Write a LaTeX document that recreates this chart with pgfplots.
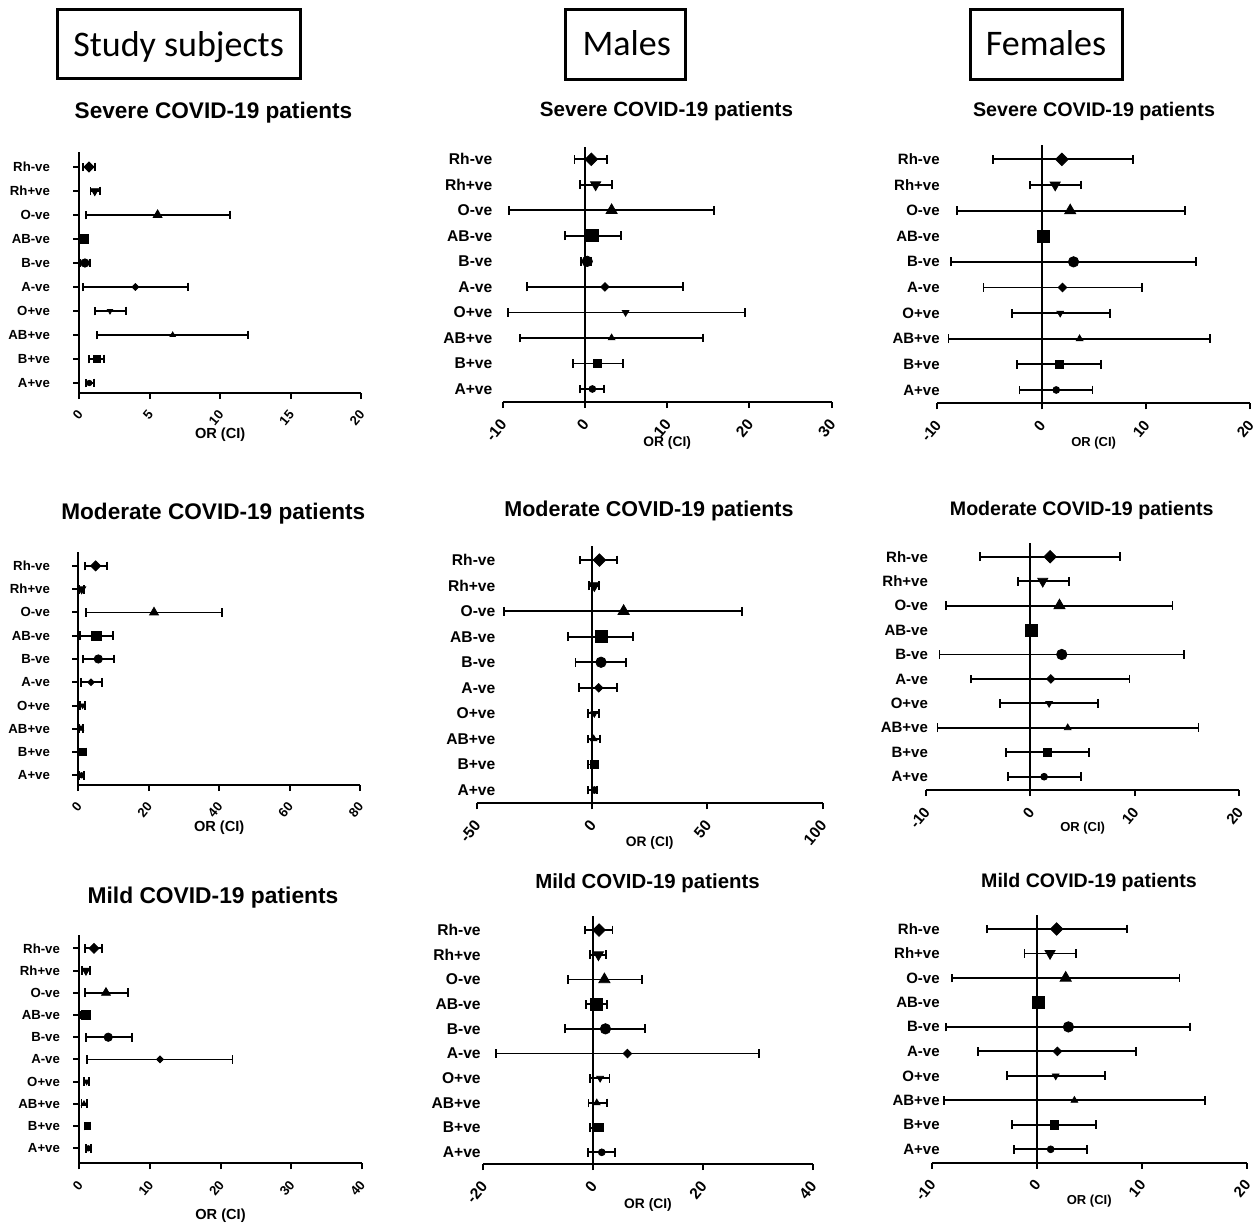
\documentclass[border=0pt]{standalone}
\usepackage{pgfplots}
\usepackage{pgfplotstable}
\pgfplotsset{compat=1.18}
\usepackage{fontspec}
\setmainfont{Liberation Sans}
\newfontfamily\hdrfont{Carlito}

% rows: Rh-ve, Rh+ve, O-ve, AB-ve, B-ve, A-ve, O+ve, AB+ve, B+ve, A+ve
\pgfplotstableread{
y x lo hi
10 0.69 0.28 1.11
9 1.10 0.80 1.47
8 5.56 0.47 10.70
7 0.33 0.05 0.57
6 0.40 0.05 0.76
5 3.98 0.28 7.69
4 2.18 1.11 3.31
3 6.63 1.28 12.00
2 1.23 0.71 1.75
1 0.71 0.47 1.07
}\tabAA
\pgfplotstableread{
y x lo hi
10 0.77 -1.26 2.72
9 1.30 -0.65 3.28
8 3.24 -9.20 15.70
7 0.90 -2.47 4.34
6 0.28 -0.45 0.77
5 2.43 -7.00 11.96
4 4.94 -9.36 19.45
3 3.24 -7.90 14.35
2 1.50 -1.50 4.62
1 0.90 -0.65 2.31
}\tabAB
\pgfplotstableread{
y x lo hi
10 1.95 -4.67 8.76
9 1.31 -1.09 3.77
8 2.75 -8.12 13.78
7 0.19 0.00 0.40
6 3.07 -8.70 14.84
5 2.01 -5.56 9.63
4 1.79 -2.85 6.59
3 3.65 -8.92 16.18
2 1.73 -2.37 5.69
1 1.41 -2.11 4.89
}\tabAC
\pgfplotstableread{
y x lo hi
10 4.92 1.90 8.24
9 0.95 0.30 1.60
8 21.50 2.18 40.90
7 5.20 0.47 9.94
6 5.68 1.23 10.13
5 3.60 0.76 6.63
4 1.23 0.47 1.90
3 0.76 0.20 1.40
2 1.23 0.47 2.10
1 0.95 0.30 1.60
}\tabBA
\pgfplotstableread{
y x lo hi
10 3.2 -5.3 10.8
9 1.0 -1.4 2.9
8 13.7 -38.0 65.0
7 3.9 -10.5 17.6
6 3.9 -7.2 14.7
5 2.9 -5.8 10.8
4 1.0 -1.7 2.9
3 0.7 -1.7 3.3
2 1.0 -1.7 2.5
1 1.0 -1.7 2.2
}\tabBB
\pgfplotstableread{
y x lo hi
10 1.88 -4.82 8.59
9 1.18 -1.21 3.70
8 2.78 -8.08 13.60
7 0.13 0.00 0.30
6 3.00 -8.71 14.70
5 1.95 -5.68 9.48
4 1.79 -2.90 6.45
3 3.57 -8.90 16.10
2 1.63 -2.36 5.62
1 1.31 -2.17 4.82
}\tabBC
\pgfplotstableread{
y x lo hi
10 2.08 0.80 3.16
9 0.94 0.40 1.50
8 3.78 0.80 6.94
7 0.94 0.10 1.60
6 4.10 0.94 7.41
5 11.43 1.04 21.70
4 1.04 0.66 1.42
3 0.66 0.30 1.04
2 1.13 0.80 1.50
1 1.27 0.90 1.70
}\tabCA
\pgfplotstableread{
y x lo hi
10 1.09 -1.52 3.52
9 0.97 -0.55 2.31
8 2.06 -4.61 8.86
7 0.67 -1.28 2.49
6 2.25 -5.10 9.47
5 6.25 -17.67 30.24
4 1.28 -0.55 2.98
3 0.67 -0.85 2.49
2 0.97 -0.55 1.76
1 1.58 -0.97 4.00
}\tabCB
\pgfplotstableread{
y x lo hi
10 1.90 -4.76 8.57
9 1.27 -1.17 3.75
8 2.76 -8.03 13.59
7 0.16 0.00 0.35
6 3.02 -8.63 14.60
5 1.97 -5.56 9.46
4 1.81 -2.86 6.51
3 3.59 -8.83 16.03
2 1.68 -2.32 5.65
1 1.33 -2.16 4.76
}\tabCC

\def\mf{1}
\pgfplotsset{
  forest/.style={
    scale only axis, anchor=south west, clip=false,
    axis x line=bottom, axis y line=left,
    axis line style={-, line width=1pt, black},
    tick style={black, line width=1pt},
    major tick length=3pt,
    xtick align=outside,
    ytick={1,...,10},
    yticklabels={A+ve,B+ve,AB+ve,O+ve,A-ve,B-ve,AB-ve,O-ve,Rh+ve,Rh-ve},
    /pgf/number format/assume math mode=true,
    xticklabel style={xshift=0.5pt, yshift=-6.5pt, rotate=50, anchor=east, inner sep=0pt},
    yticklabel style={anchor=east, inner sep=0pt},
    xlabel={OR (CI)},
    xlabel style={at={(axis description cs:0.5,0)}, anchor=center},
  },
  col1/.style={ytick align=outside,
    tick label style={font=\bfseries\fontsize{6.6}{7}\selectfont},
    xlabel style={font=\bfseries\fontsize{7.3}{8}\selectfont}},
  col2/.style={ytick align=inside, y axis line style={draw=none}, ytick style={draw=none},
    tick label style={font=\bfseries\fontsize{7.8}{8}\selectfont},
    xlabel style={font=\bfseries\fontsize{6.9}{8}\selectfont}},
  col3/.style={ytick align=inside, y axis line style={draw=none}, ytick style={draw=none},
    tick label style={font=\bfseries\fontsize{7.5}{8}\selectfont},
    xlabel style={font=\bfseries\fontsize{6.5}{8}\selectfont}},
  orbar/.style={black, only marks,
    error bars/x dir=both, error bars/x explicit,
    error bars/error mark=|,
    error bars/error bar style={line width=0.9pt, black},
    error bars/error mark options={line width=0.9pt, black, mark size=2.2pt}},
  mrn/.style={mark=square*, mark size=2.2pt*\mf, mark options={rotate=45, fill=black}},
  mrp/.style={mark=triangle*, mark size=2.9pt*\mf, mark options={rotate=180, fill=black}},
  mon/.style={mark=triangle*, mark size=3.2pt*\mf, mark options={fill=black}},
  mabn/.style={mark=square*, mark size=3pt*\mf, mark options={fill=black}},
  mbn/.style={mark=*, mark size=2.6pt*\mf, mark options={fill=black}},
  man/.style={mark=square*, mark size=1.5pt*\mf, mark options={rotate=45, fill=black}},
  mop/.style={mark=triangle*, mark size=1.9pt*\mf, mark options={rotate=180, fill=black}},
  mabp/.style={mark=triangle*, mark size=1.9pt*\mf, mark options={fill=black}},
  mbp/.style={mark=square*, mark size=2.1pt*\mf, mark options={fill=black}},
  map/.style={mark=*, mark size=1.7pt*\mf, mark options={fill=black}},
}

% one row of a forest plot: #1 = y window, #2 = marker style, #3 = table
\newcommand\orrow[3]{\addplot[orbar, #2, restrict y to domain=#1]
  table[x=x, y=y, x error plus expr={\thisrow{hi}-\thisrow{x}}, x error minus expr={\thisrow{x}-\thisrow{lo}}]{#3};}
\newcommand\orall[1]{%
  \orrow{9.5:10.5}{mrn}{#1}\orrow{8.5:9.5}{mrp}{#1}\orrow{7.5:8.5}{mon}{#1}%
  \orrow{6.5:7.5}{mabn}{#1}\orrow{5.5:6.5}{mbn}{#1}\orrow{4.5:5.5}{man}{#1}%
  \orrow{3.5:4.5}{mop}{#1}\orrow{2.5:3.5}{mabp}{#1}\orrow{1.5:2.5}{mbp}{#1}%
  \orrow{0.5:1.5}{map}{#1}}

\begin{document}
\begin{tikzpicture}
\useasboundingbox (0,0) rectangle (629pt,-613pt);

% headers
\draw[line width=1.5pt] (28.65pt,-4.65pt) rectangle (150.35pt,-39.15pt);
\node[anchor=base, font=\hdrfont\fontsize{18}{20}\selectfont] at (89.3pt,-28.35pt) {Study subjects};
\draw[line width=1.5pt] (282.5pt,-4.65pt) rectangle (342.85pt,-39.5pt);
\node[anchor=base, font=\hdrfont\fontsize{18}{20}\selectfont] at (313.35pt,-27.5pt) {Males};
\draw[line width=1.5pt] (485pt,-4.65pt) rectangle (561.15pt,-39.5pt);
\node[anchor=base, font=\hdrfont\fontsize{18}{20}\selectfont] at (523pt,-27.5pt) {Females};

% titles
\node[anchor=base, font=\bfseries\fontsize{11.3}{12}\selectfont] at (106.75pt,-59.15pt) {Severe COVID-19 patients};
\node[anchor=base, font=\bfseries\fontsize{10.3}{12}\selectfont] at (333.25pt,-58pt) {Severe COVID-19 patients};
\node[anchor=base, font=\bfseries\fontsize{9.85}{12}\selectfont] at (547pt,-58pt) {Severe COVID-19 patients};
\node[anchor=base, font=\bfseries\fontsize{11.3}{12}\selectfont] at (106.65pt,-259.65pt) {Moderate COVID-19 patients};
\node[anchor=base, font=\bfseries\fontsize{10.75}{12}\selectfont] at (324.5pt,-258.35pt) {Moderate COVID-19 patients};
\node[anchor=base, font=\bfseries\fontsize{9.8}{12}\selectfont] at (540.85pt,-257.5pt) {Moderate COVID-19 patients};
\node[anchor=base, font=\bfseries\fontsize{11.4}{12}\selectfont] at (106.5pt,-451.65pt) {Mild COVID-19 patients};
\node[anchor=base, font=\bfseries\fontsize{10.2}{12}\selectfont] at (323.75pt,-444.15pt) {Mild COVID-19 patients};
\node[anchor=base, font=\bfseries\fontsize{9.8}{12}\selectfont] at (544.5pt,-443.65pt) {Mild COVID-19 patients};

% ---- row 1
\def\mf{0.8}
\begin{axis}[forest, col1, at={(39.65pt,-196.5pt)}, width=140.85pt, height=120.5pt,
  xmin=0, xmax=20, ymin=0.583, ymax=10.625, xtick={0,5,10,15,20},
  yticklabel style={xshift=-11.5pt}, xlabel style={yshift=-21pt}]
\orall{\tabAA}
\end{axis}
\def\mf{1}
\begin{axis}[forest, col2, at={(251.35pt,-201pt)}, width=164.5pt, height=127.5pt,
  xmin=-10, xmax=30, ymin=0.49, ymax=10.48, xtick={-10,0,10,20,30},
  yticklabel style={xshift=-5pt}, xlabel style={yshift=-20.5pt}]
\draw[line width=1pt] (axis cs:0,0.49) -- (axis cs:0,10.48);
\orall{\tabAB}
\end{axis}
\begin{axis}[forest, col3, at={(468.65pt,-201.65pt)}, width=156.35pt, height=129.15pt,
  xmin=-10, xmax=20, ymin=0.48, ymax=10.56, xtick={-10,0,10,20},
  yticklabel style={xshift=1.35pt}, xlabel style={yshift=-19.75pt}]
\draw[line width=1pt] (axis cs:0,0.48) -- (axis cs:0,10.56);
\orall{\tabAC}
\end{axis}

% ---- row 2
\def\mf{0.8}
\begin{axis}[forest, col1, at={(39.15pt,-392.5pt)}, width=140.85pt, height=116.65pt,
  xmin=0, xmax=80, ymin=0.583, ymax=10.61, xtick={0,20,40,60,80},
  yticklabel style={xshift=-11pt}, xlabel style={yshift=-21.5pt}]
\orall{\tabBA}
\end{axis}
\def\mf{1}
\begin{axis}[forest, col2, at={(238.35pt,-401.65pt)}, width=173pt, height=128.65pt,
  xmin=-50, xmax=100, ymin=0.48, ymax=10.55, xtick={-50,0,50,100},
  yticklabel style={xshift=9.5pt}, xlabel style={yshift=-20pt}]
\draw[line width=1pt] (axis cs:0,0.48) -- (axis cs:0,10.55);
\orall{\tabBB}
\end{axis}
\begin{axis}[forest, col3, at={(463pt,-395pt)}, width=156.65pt, height=123.35pt,
  xmin=-10, xmax=20, ymin=0.456, ymax=10.55, xtick={-10,0,10,20},
  yticklabel style={xshift=1.15pt}, xlabel style={yshift=-19pt}]
\draw[line width=1pt] (axis cs:0,0.456) -- (axis cs:0,10.55);
\orall{\tabBC}
\end{axis}

% ---- row 3
\def\mf{0.8}
\begin{axis}[forest, col1, at={(39.65pt,-581.65pt)}, width=141.2pt, height=114.15pt,
  xmin=0, xmax=40, ymin=0.325, ymax=10.6, xtick={0,10,20,30,40},
  yticklabel style={xshift=-6.5pt}, xlabel style={yshift=-26pt}]
\orall{\tabCA}
\end{axis}
\def\mf{1}
\begin{axis}[forest, col2, at={(241.65pt,-582pt)}, width=164.7pt, height=124pt,
  xmin=-20, xmax=40, ymin=0.526, ymax=10.57, xtick={-20,0,20,40},
  yticklabel style={xshift=-1.15pt}, xlabel style={yshift=-20.5pt}]
\draw[line width=1pt] (axis cs:0,0.526) -- (axis cs:0,10.57);
\orall{\tabCB}
\end{axis}
\begin{axis}[forest, col3, at={(465.85pt,-581.35pt)}, width=157.5pt, height=123.85pt,
  xmin=-10, xmax=20, ymin=0.453, ymax=10.57, xtick={-10,0,10,20},
  yticklabel style={xshift=4.15pt}, xlabel style={yshift=-19.25pt}]
\draw[line width=1pt] (axis cs:0,0.453) -- (axis cs:0,10.57);
\orall{\tabCC}
\end{axis}
\end{tikzpicture}
\end{document}
